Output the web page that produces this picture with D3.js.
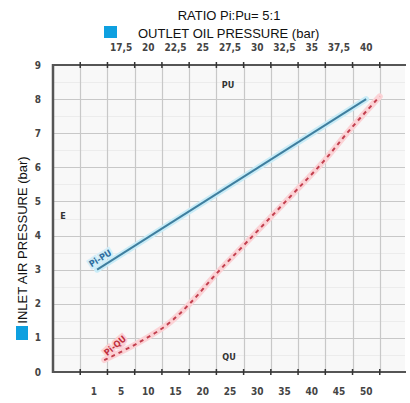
<!DOCTYPE html>
<html><head><meta charset="utf-8">
<script src="https://cdn.jsdelivr.net/npm/d3@7"></script>
<style>body{margin:0;background:#fff}svg{display:block}</style>
</head><body>
<script>
// ---- data ----
const title = "RATIO Pi:Pu= 5:1";
const topAxisTitle = "OUTLET OIL PRESSURE (bar)";
const leftAxisTitle = "INLET AIR PRESSURE (bar)";
const puTicks = [17.5, 20, 22.5, 25, 27.5, 30, 32.5, 35, 37.5, 40];
const quTickLabels = ["1", "5", "10", "15", "20", "25", "30", "35", "40", "45", "50"];
const piTicks = [0, 1, 2, 3, 4, 5, 6, 7, 8, 9];
// Pi-PU line (outlet pressure bar, inlet pressure bar)
const piPuX = [15.3, 40];
const piPuY = [3, 8];
// Pi-QU curve (flow, inlet pressure bar)
const piQuX = [1.9, 8.1, 13.4, 17.7, 22.6, 28.1, 36.0, 42.1, 47.0, 52.5];
const piQuY = [0.35, 0.85, 1.38, 2.02, 2.9, 3.81, 5.13, 6.16, 7.1, 8.08];

const W = 410, H = 403;
const L = 53, R = 407, T = 65, B = 372;
const svg = d3.select("body").append("svg").attr("width", W).attr("height", H);

const cell = d3.scaleLinear().domain([0, 13]).range([L, R]);
const pu = d3.scaleLinear().domain([11.25, 43.75]).range([L, R]);
const qu = d3.scaleLinear().domain([-7.5, 57.5]).range([L, R]);
const qBand = d3.scaleBand().domain(d3.range(13)).range([L, R]);
const y = d3.scaleLinear().domain([0, 9]).range([B, T]);

// plot background
svg.append("rect").attr("x", L).attr("y", T).attr("width", 405 - L).attr("height", B - T).attr("fill", "#f8f8f8");

// minor grid
const g = svg.append("g");
g.selectAll(".mh").data(d3.range(0.5, 9, 0.5).filter(v => v % 1 !== 0)).join("line")
  .attr("x1", L).attr("x2", 405).attr("y1", d => Math.round(y(d)) + 0.5).attr("y2", d => Math.round(y(d)) + 0.5)
  .attr("stroke", "#ececec").attr("stroke-width", 1);
// major grid
g.selectAll(".gh").data(d3.range(1, 9)).join("line")
  .attr("x1", L).attr("x2", 405).attr("y1", d => Math.round(y(d)) + 0.5).attr("y2", d => Math.round(y(d)) + 0.5)
  .attr("stroke", "#c8c8c8").attr("stroke-width", 1.2);
g.selectAll(".gv").data(d3.range(1, 13)).join("line")
  .attr("y1", T).attr("y2", B).attr("x1", d => Math.round(cell(d)) + 0.5).attr("x2", d => Math.round(cell(d)) + 0.5)
  .attr("stroke", "#c8c8c8").attr("stroke-width", 1.2);

// axes lines
const axc = "#555";
svg.append("line").attr("x1", L).attr("x2", 406).attr("y1", T).attr("y2", T).attr("stroke", axc).attr("stroke-width", 2);
svg.append("line").attr("x1", L).attr("x2", 406).attr("y1", B).attr("y2", B).attr("stroke", axc).attr("stroke-width", 2);
svg.append("line").attr("x1", L).attr("x2", L).attr("y1", T - 1).attr("y2", B + 1).attr("stroke", axc).attr("stroke-width", 2.5);
// tick marks
[T, B].forEach(yy => {
  svg.append("g").selectAll("line").data(d3.range(1, 13)).join("line")
    .attr("x1", d => cell(d)).attr("x2", d => cell(d)).attr("y1", yy - 3).attr("y2", yy + 3)
    .attr("stroke", "#333").attr("stroke-width", 1.5);
});

const tickFont = "'DejaVu Sans Condensed', 'DejaVu Sans', sans-serif";
// top tick labels
svg.append("g").selectAll("text").data(puTicks).join("text")
  .attr("x", d => pu(d)).attr("y", 51).attr("text-anchor", "middle")
  .attr("font-family", tickFont).attr("font-size", 10).attr("font-weight", "bold").attr("fill", "#444")
  .text(d => String(d).replace(".", ","));
// bottom tick labels
svg.append("g").selectAll("text").data(quTickLabels).join("text")
  .attr("x", (d, i) => qBand(i + 1) + qBand.bandwidth() / 2).attr("y", 395).attr("text-anchor", "middle")
  .attr("font-family", tickFont).attr("font-size", 10).attr("font-weight", "bold").attr("fill", "#444")
  .text(d => d);
// left tick labels
svg.append("g").selectAll("text").data(piTicks).join("text")
  .attr("x", 38).attr("y", d => y(d) + 3.5).attr("text-anchor", "middle")
  .attr("font-family", tickFont).attr("font-size", 10).attr("font-weight", "bold").attr("fill", "#444")
  .text(d => d);

// lines
const lineFn = (xs) => d3.line().x(d => xs(d[0])).y(d => y(d[1]));
const puData = piPuX.map((v, i) => [v, piPuY[i]]);
const quData = piQuX.map((v, i) => [v, piQuY[i]]);
const puLine = lineFn(pu).curve(d3.curveLinear);
const quLine = lineFn(qu).curve(d3.curveCatmullRom.alpha(0.5));
svg.append("path").attr("d", puLine(puData)).attr("fill", "none").attr("stroke", "#c9ecf7").attr("stroke-width", 6).attr("stroke-linecap", "round");
svg.append("path").attr("d", puLine(puData)).attr("fill", "none").attr("stroke", "#3f7f9f").attr("stroke-width", 2);
svg.append("path").attr("d", quLine(quData)).attr("fill", "none").attr("stroke", "#fbd3d6").attr("stroke-width", 6).attr("stroke-linecap", "round");
svg.append("path").attr("d", quLine(quData)).attr("fill", "none").attr("stroke", "#c2404f").attr("stroke-width", 2).attr("stroke-dasharray", "4,4");

// in-plot labels
const lbl = (txt, x, yy, col, rot, halo) => {
  const t = svg.append("g").attr("transform", `translate(${x},${yy}) rotate(${rot})`);
  if (halo) t.append("text").text(txt).attr("text-anchor", "middle").attr("font-family", tickFont)
    .attr("font-size", 9).attr("font-weight", "bold").attr("stroke", halo).attr("stroke-width", 4).attr("fill", halo);
  t.append("text").text(txt).attr("text-anchor", "middle").attr("font-family", tickFont)
    .attr("font-size", 9).attr("font-weight", "bold").attr("fill", col);
};
lbl("Pi-PU", 102, 261, "#2f6f9f", -32, "#d2eef8");
lbl("Pi-QU", 117, 348, "#c0303f", -40, "#fcd0d4");
lbl("PU", 228, 88, "#333", 0, null);
lbl("QU", 229, 360, "#333", 0, null);
lbl("E", 63, 219, "#333", 0, null);

// titles
const tf = "'Liberation Sans', Arial, sans-serif";
svg.append("text").attr("x", 229).attr("y", 20).attr("text-anchor", "middle")
  .attr("font-family", tf).attr("font-size", 13).attr("fill", "#111").text(title);
svg.append("rect").attr("x", 104).attr("y", 26).attr("width", 13).attr("height", 12).attr("fill", "#0ea0e0");
svg.append("text").attr("x", 138).attr("y", 38)
  .attr("font-family", tf).attr("font-size", 13).attr("fill", "#111").text(topAxisTitle);
svg.append("rect").attr("x", 16).attr("y", 326).attr("width", 12).attr("height", 14).attr("fill", "#0ea0e0");
svg.append("text").attr("transform", "translate(27,240) rotate(-90)").attr("text-anchor", "middle")
  .attr("font-family", tf).attr("font-size", 13).attr("fill", "#111").text(leftAxisTitle);
</script>
</body></html>
